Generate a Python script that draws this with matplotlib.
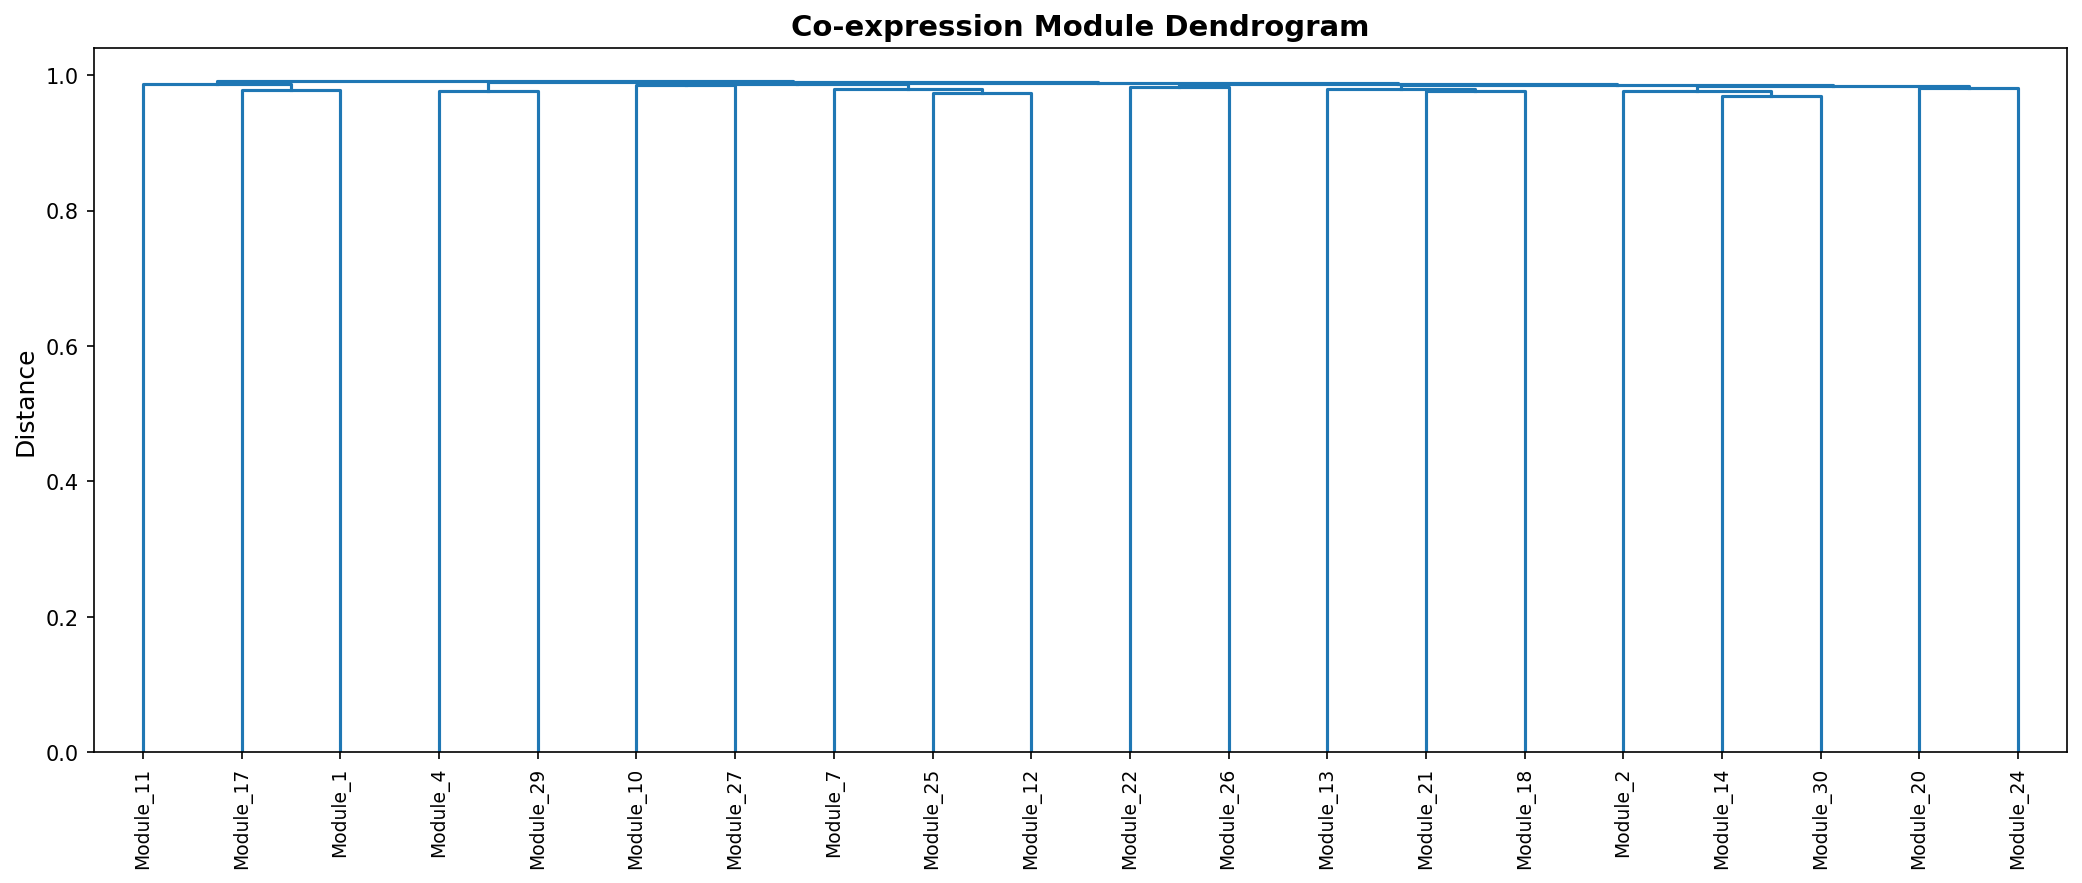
#!/usr/bin/env python3
"""
Co-expression module dendrogram
"""

import numpy as np
import matplotlib
matplotlib.use('Agg')
import matplotlib.pyplot as plt

# leaf labels in dendrogram order
module_labels = [
    'Module_11', 'Module_17', 'Module_1', 'Module_4', 'Module_29',
    'Module_10', 'Module_27', 'Module_7', 'Module_25', 'Module_12',
    'Module_22', 'Module_26', 'Module_13', 'Module_21', 'Module_18',
    'Module_2', 'Module_14', 'Module_30', 'Module_20', 'Module_24',
]

# linkage-style merges: ids 0-19 are leaves, 20+ are earlier merges
merge_left = [16, 8, 3, 13, 15, 1, 12, 7, 18, 10, 24, 26, 5, 32, 0, 29, 33, 22, 34]
merge_right = [17, 9, 4, 14, 20, 2, 23, 21, 19, 11, 28, 30, 6, 27, 25, 31, 35, 36, 37]
merge_height = [0.969, 0.973, 0.976, 0.976, 0.977, 0.978, 0.979, 0.980, 0.981, 0.983,
                0.984, 0.9855, 0.986, 0.987, 0.987, 0.9875, 0.988, 0.9895, 0.991]


def dendrogram_coords(n_leaves, left, right, heights):
    """U-shape coordinates for every merge (scipy style leaf spacing)"""
    node_x = list(5.0 + 10.0 * np.arange(n_leaves))
    node_y = [0.0] * n_leaves
    segments = []
    for a, b, h in zip(left, right, heights):
        xa, xb = node_x[a], node_x[b]
        segments.append(([xa, xa, xb, xb], [node_y[a], h, h, node_y[b]]))
        node_x.append((xa + xb) / 2.0)
        node_y.append(h)
    return segments


fig = plt.figure(figsize=(13.88, 5.893), dpi=150)
ax = fig.add_axes([0.045, 0.148, 0.948, 0.797])

for xs, ys in dendrogram_coords(len(module_labels), merge_left, merge_right, merge_height):
    ax.plot(xs, ys, color='#1f77b4', linewidth=1.5)

leaf_pos = 5.0 + 10.0 * np.arange(len(module_labels))
ax.set_xticks(leaf_pos)
ax.set_xticklabels(module_labels, rotation=90, fontsize=9)
ax.set_xlim(0, 10 * len(module_labels))
ax.set_ylim(0, max(merge_height) * 1.05)

ax.set_ylabel('Distance', fontsize=12)
ax.set_title('Co-expression Module Dendrogram', fontsize=14, fontweight='bold')

fig.savefig('out.png', dpi=150)
